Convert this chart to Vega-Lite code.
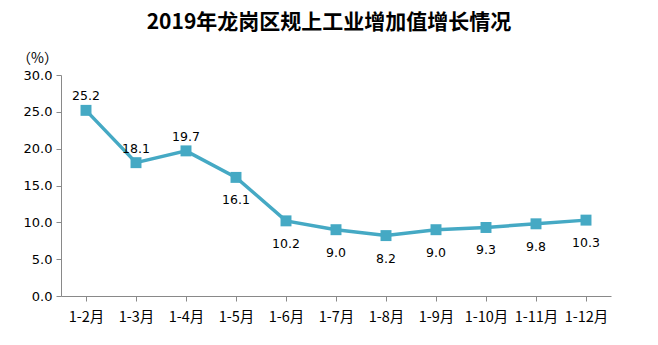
{
  "$schema": "https://vega.github.io/schema/vega-lite/v6.json",
  "width": 550,
  "height": 221,
  "autosize": "none",
  "padding": {"left": 61, "top": 75, "right": 47, "bottom": 49},
  "background": "white",
  "config": {"view": {"stroke": null}, "font": "Noto Sans CJK SC"},
  "title": {"text": "2019年龙岗区规上工业增加值增长情况", "font": "Noto Sans CJK SC", "fontSize": 21, "fontWeight": "bold", "color": "#000000", "anchor": "middle", "dx": -7, "offset": 18},
  "data": {"values": [
    {"month": "1-2月", "value": 25.2},
    {"month": "1-3月", "value": 18.1},
    {"month": "1-4月", "value": 19.7},
    {"month": "1-5月", "value": 16.1},
    {"month": "1-6月", "value": 10.2},
    {"month": "1-7月", "value": 9.0},
    {"month": "1-8月", "value": 8.2},
    {"month": "1-9月", "value": 9.0},
    {"month": "1-10月", "value": 9.3},
    {"month": "1-11月", "value": 9.8},
    {"month": "1-12月", "value": 10.3}
  ]},
  "encoding": {
    "x": {"field": "month", "type": "nominal", "sort": null,
      "scale": {"paddingInner": 0, "paddingOuter": 0},
      "axis": {"title": null, "labelAngle": 0, "domainColor": "#898989", "tickColor": "#898989", "tickSize": 5, "bandPosition": 0, "labelPadding": 9, "labelFontSize": 14.5, "labelColor": "#000000", "labelFont": "Noto Sans CJK SC"}},
    "y": {"field": "value", "type": "quantitative",
      "scale": {"domain": [0, 30], "nice": false},
      "axis": {"values": [0, 5, 10, 15, 20, 25, 30], "format": ".1f", "grid": false, "domainColor": "#898989", "tickColor": "#898989", "tickSize": 5, "labelPadding": 4, "labelFontSize": 13, "labelColor": "#000000", "labelFont": "DejaVu Sans",
        "title": "（%）", "titleAngle": 0, "titleX": -24, "titleY": -17, "titleAlign": "center", "titleBaseline": "middle", "titleFontWeight": "normal", "titleFontSize": 14, "titleColor": "#000000", "titleFont": "Noto Sans CJK SC"}}
  },
  "layer": [
    {"mark": {"type": "line", "color": "#45A9C4", "strokeWidth": 3.5}},
    {"mark": {"type": "point", "shape": "square", "filled": true, "color": "#45A9C4", "opacity": 1, "size": 120}},
    {"transform": [{"filter": {"field": "month", "oneOf": ["1-2月", "1-3月", "1-4月"]}}],
     "mark": {"type": "text", "dy": -14, "fontSize": 12.5, "font": "DejaVu Sans", "color": "#000000"},
     "encoding": {"text": {"field": "value", "type": "quantitative", "format": ".1f"}}},
    {"transform": [{"filter": {"not": {"field": "month", "oneOf": ["1-2月", "1-3月", "1-4月"]}}}],
     "mark": {"type": "text", "dy": 23, "fontSize": 12.5, "font": "DejaVu Sans", "color": "#000000"},
     "encoding": {"text": {"field": "value", "type": "quantitative", "format": ".1f"}}}
  ]
}
